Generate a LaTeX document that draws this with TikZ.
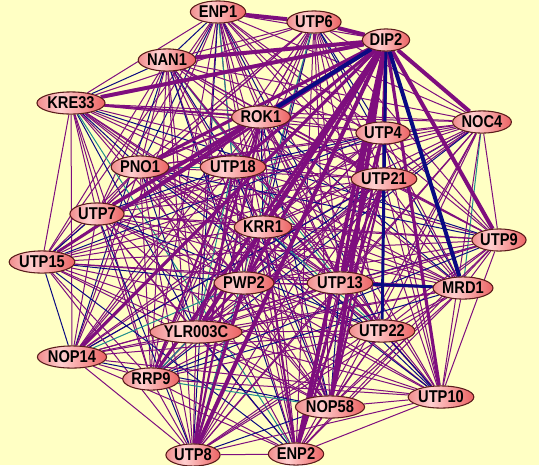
\documentclass[tikz,border=0pt]{standalone}
\usepackage{fontspec}
\setmainfont{Liberation Sans}
\newfontfamily\nodefont{Liberation Sans}[FakeStretch=0.86]
\usetikzlibrary{shapes.geometric}
\definecolor{bgyellow}{HTML}{FFFFC4}
\definecolor{epurple}{HTML}{7E0E7E}
\definecolor{enavy}{HTML}{0A0A82}
\definecolor{eteal}{HTML}{1E8C8C}
\definecolor{nl}{HTML}{F08C8C}
\definecolor{nm}{HTML}{FFCFCF}
\definecolor{nr}{HTML}{EC6464}
\definecolor{nborder}{HTML}{5A1C1C}
\pgfdeclarehorizontalshading{pinkshade}{100bp}{color(0bp)=(nl); color(25bp)=(nl); color(42bp)=(nm); color(75bp)=(nr); color(100bp)=(nr)}
\pgfdeclarelayer{bglayer}
\pgfdeclarelayer{edges}
\pgfsetlayers{bglayer,edges,main}
\tikzset{
  prot/.style={ellipse, draw=nborder, line width=0.8pt, shading=pinkshade,
    inner xsep=0.3pt, inner ysep=0pt, minimum height=16.6pt,
    font=\nodefont\bfseries\fontsize{12.8}{14}\selectfont, text=black},
  thinedge/.style={line width=0.75pt},
  heavy/.style={line width=#1, draw=epurple},
  heavyn/.style={line width=#1, draw=enavy}
}
\begin{document}
\begin{tikzpicture}[x=0.75pt,y=-0.75pt]
\useasboundingbox (0,0) rectangle (539,465);
\begin{pgfonlayer}{bglayer}
\fill[bgyellow] (0,0) rectangle (539,465);
\end{pgfonlayer}
% nodes
\node[prot] (ENP1) at (218,12) {ENP1};
\node[prot] (UTP6) at (314,22) {UTP6};
\node[prot] (DIP2) at (386,40) {DIP2};
\node[prot] (NAN1) at (167,60) {NAN1};
\node[prot] (KRE33) at (71,103) {KRE33};
\node[prot] (ROK1) at (261,117) {ROK1};
\node[prot] (NOC4) at (482,122) {NOC4};
\node[prot] (UTP4) at (383,133) {UTP4};
\node[prot] (PNO1) at (140,167) {PNO1};
\node[prot] (UTP18) at (233,167) {UTP18};
\node[prot] (UTP21) at (384,179) {UTP21};
\node[prot] (UTP7) at (97,214) {UTP7};
\node[prot] (KRR1) at (263,227) {KRR1};
\node[prot] (UTP9) at (499,240) {UTP9};
\node[prot] (UTP15) at (42,262) {UTP15};
\node[prot] (PWP2) at (244,283) {PWP2};
\node[prot] (UTP13) at (340,283) {UTP13};
\node[prot] (MRD1) at (463,288) {MRD1};
\node[prot] (YLR003C) at (196,332) {YLR003C};
\node[prot] (UTP22) at (382,331) {UTP22};
\node[prot] (NOP14) at (72,357) {NOP14};
\node[prot] (RRP9) at (151,379) {RRP9};
\node[prot] (NOP58) at (330,407) {NOP58};
\node[prot] (UTP10) at (441,397) {UTP10};
\node[prot] (UTP8) at (193,455) {UTP8};
\node[prot] (ENP2) at (296,454) {ENP2};
\begin{pgfonlayer}{edges}
% thin mesh
\foreach \a [count=\i] in {ENP1,UTP6,DIP2,NAN1,KRE33,ROK1,NOC4,UTP4,PNO1,UTP18,UTP21,UTP7,KRR1,UTP9,UTP15,PWP2,UTP13,MRD1,YLR003C,UTP22,NOP14,RRP9,NOP58,UTP10,UTP8,ENP2}{
  \foreach \b [count=\j] in {ENP1,UTP6,DIP2,NAN1,KRE33,ROK1,NOC4,UTP4,PNO1,UTP18,UTP21,UTP7,KRR1,UTP9,UTP15,PWP2,UTP13,MRD1,YLR003C,UTP22,NOP14,RRP9,NOP58,UTP10,UTP8,ENP2}{
    \ifnum\j>\i
      \pgfmathtruncatemacro\k{mod(\i*7+\j*5,26)}
      \ifnum\k<4
        \draw[thinedge,enavy] (\a) -- (\b);
      \else\ifnum\k=9
        \draw[thinedge,eteal] (\a) -- (\b);
      \else
        \draw[thinedge,epurple] (\a) -- (\b);
      \fi\fi
    \fi
  }
}
% medium edges
\foreach \a/\b in {ROK1/YLR003C,ROK1/UTP8,ROK1/PNO1,ROK1/KRE33,UTP18/UTP8,KRR1/ENP2,UTP4/NOP58,UTP21/NOP58,UTP4/ENP2,UTP21/UTP13,UTP4/UTP13,ROK1/UTP15,UTP18/RRP9,KRR1/UTP8,UTP21/ENP2,PWP2/UTP8}{
  \draw[heavy=1.6pt] (\a) -- (\b);
}
% heavy edges
\foreach \a/\w in {NAN1/3pt,KRE33/3pt,PNO1/2.4pt,UTP7/2.4pt,UTP15/2pt,UTP18/2.4pt,KRR1/3pt,PWP2/2.4pt,YLR003C/3pt,RRP9/2.4pt,NOP14/2.4pt,UTP8/3pt,ENP2/3pt,NOP58/3pt,UTP13/2.4pt,UTP21/2.4pt,UTP4/2.4pt,UTP9/3pt,NOC4/3pt,UTP10/2.4pt}{
  \draw[heavy=\w] (DIP2) -- (\a);
}
\draw[heavy=3pt] (ENP1) -- (UTP6);
\draw[heavy=3pt] (UTP6) -- (DIP2);
\draw[heavy=2.4pt] (UTP7) -- (ROK1);
\draw[heavyn=3pt] (DIP2) -- (ROK1);
\draw[heavyn=3pt] (DIP2) -- (MRD1);
\draw[heavyn=2.2pt] (DIP2) -- (UTP22);
\draw[heavyn=2.2pt] (UTP13) -- (MRD1);
\end{pgfonlayer}
\end{tikzpicture}
\end{document}
